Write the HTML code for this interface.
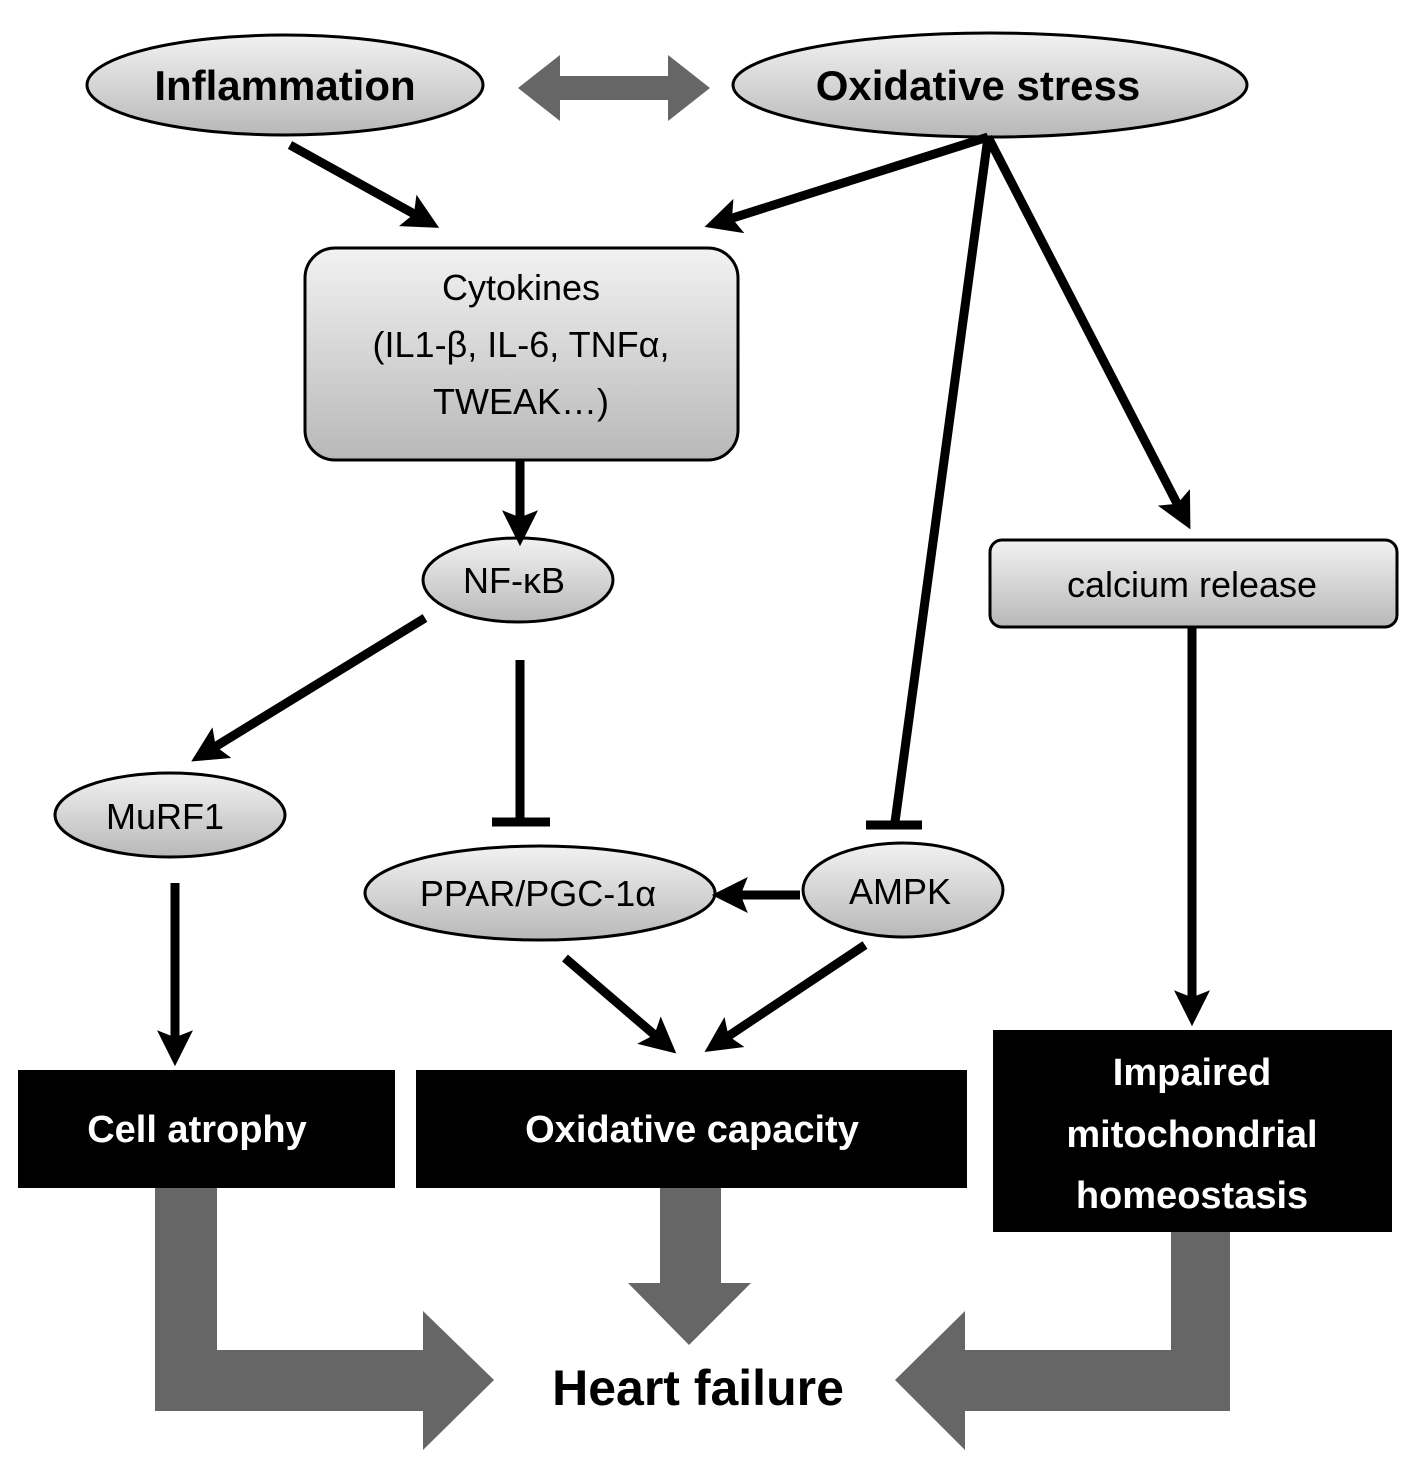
<!DOCTYPE html>
<html><head><meta charset="utf-8"><style>body{margin:0;background:#fff}svg{display:block}</style></head>
<body>
<svg width="1417" height="1479" viewBox="0 0 1417 1479" font-family="'Liberation Sans', 'DejaVu Sans', sans-serif">
<defs>
<linearGradient id="g" x1="0" y1="0" x2="0" y2="1"><stop offset="0" stop-color="#f2f2f2"/><stop offset="1" stop-color="#b8b8b8"/></linearGradient>
<marker id="a" markerWidth="4" markerHeight="4" refX="2.2" refY="2" orient="auto" markerUnits="strokeWidth"><path d="M0,0 L4,2 L0,4 L0.8,2 Z" fill="#000"/></marker>
</defs>
<g stroke="#000" stroke-width="3">
<ellipse cx="285" cy="85" rx="198" ry="50" fill="url(#g)"/>
<ellipse cx="990" cy="85" rx="257" ry="52" fill="url(#g)"/>
<rect x="305" y="248" width="433" height="212" rx="30" fill="url(#g)"/>
<ellipse cx="518" cy="580" rx="95" ry="42" fill="url(#g)"/>
<ellipse cx="170" cy="815" rx="115" ry="42" fill="url(#g)"/>
<ellipse cx="540" cy="893" rx="175" ry="47" fill="url(#g)"/>
<ellipse cx="903" cy="890" rx="100" ry="47" fill="url(#g)"/>
<rect x="990" y="540" width="407" height="87" rx="12" fill="url(#g)"/>
</g>
<path d="M518,88 L560,55 L560,76 L668,76 L668,55 L710,88 L668,121 L668,100 L560,100 L560,121 Z" fill="#666"/>
<g stroke="#000" stroke-width="9" fill="none" stroke-linecap="butt">
<line x1="290" y1="145" x2="425" y2="220" marker-end="url(#a)"/>
<line x1="988" y1="137" x2="720" y2="222" marker-end="url(#a)"/>
<line x1="988" y1="137" x2="1183" y2="515" marker-end="url(#a)"/>
<line x1="988" y1="137" x2="895" y2="822"/>
<line x1="866" y1="825" x2="922" y2="825"/>
<line x1="520" y1="460" x2="520" y2="530" marker-end="url(#a)"/>
<line x1="425" y1="618" x2="205" y2="753" marker-end="url(#a)"/>
<line x1="520" y1="660" x2="520" y2="822"/>
<line x1="492" y1="822" x2="550" y2="822"/>
<line x1="800" y1="895" x2="728" y2="895" marker-end="url(#a)"/>
<line x1="565" y1="958" x2="664" y2="1043" marker-end="url(#a)"/>
<line x1="865" y1="945" x2="718" y2="1043" marker-end="url(#a)"/>
<line x1="175" y1="883" x2="175" y2="1050" marker-end="url(#a)"/>
<line x1="1192" y1="627" x2="1192" y2="1010" marker-end="url(#a)"/>
</g>
<rect x="18" y="1070" width="377" height="118" fill="#000"/>
<rect x="416" y="1070" width="551" height="118" fill="#000"/>
<rect x="993" y="1030" width="399" height="202" fill="#000"/>
<g fill="#666">
<path d="M155,1188 L217,1188 L217,1350 L423,1350 L423,1311 L494,1380 L423,1450 L423,1411 L155,1411 Z"/>
<path d="M660,1188 L721,1188 L721,1283 L751,1283 L689,1345 L628,1283 L660,1283 Z"/>
<path d="M1171,1232 L1230,1232 L1230,1411 L965,1411 L965,1450 L895,1380 L965,1311 L965,1350 L1171,1350 Z"/>
</g>
<g text-anchor="middle">
<text x="285" y="100" font-size="42" font-weight="bold">Inflammation</text>
<text x="978" y="100" font-size="42" font-weight="bold">Oxidative stress</text>
<text x="521" y="300" font-size="36">Cytokines</text>
<text x="521" y="357" font-size="36">(IL1-β, IL-6, TNFα,</text>
<text x="521" y="414" font-size="36">TWEAK…)</text>
<text x="514" y="593" font-size="36">NF-κB</text>
<text x="165" y="829" font-size="36">MuRF1</text>
<text x="538" y="906" font-size="36">PPAR/PGC-1α</text>
<text x="900" y="904" font-size="36">AMPK</text>
<text x="1192" y="597" font-size="36">calcium release</text>
<g fill="#fff" font-weight="bold" font-size="38">
<text x="197" y="1142">Cell atrophy</text>
<text x="692" y="1142">Oxidative capacity</text>
<text x="1192" y="1085">Impaired</text>
<text x="1192" y="1147">mitochondrial</text>
<text x="1192" y="1208">homeostasis</text>
</g>
<text x="698" y="1405" font-size="50" font-weight="bold">Heart failure</text>
</g>
</svg>
</body></html>
